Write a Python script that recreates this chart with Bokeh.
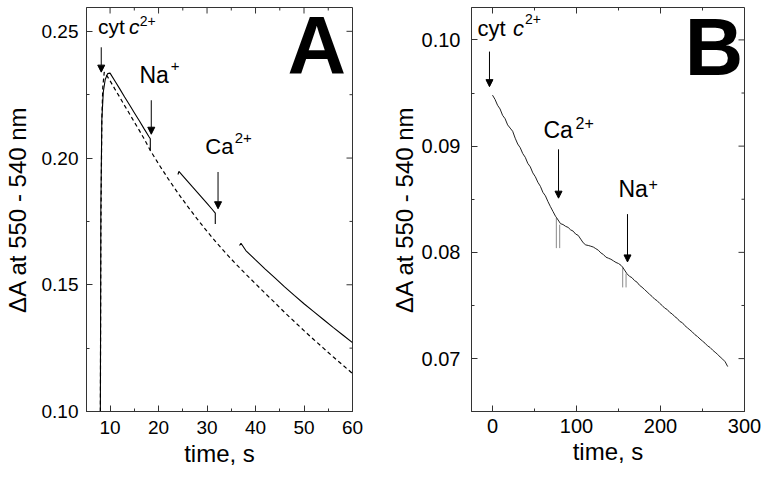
import math
from bokeh.plotting import figure
from bokeh.layouts import row
from bokeh.models import (Range1d, SingleIntervalTicker, NumeralTickFormatter,
                          Label, Arrow, NormalHead, ColumnDataSource)
from bokeh.embed import file_html
from bokeh.resources import INLINE

FONT = "Liberation Sans"

# ---------------- Panel A data ----------------
A_dashed_t = [8.0, 8.1, 8.3, 8.5, 8.8, 9.5, 10, 11, 12, 13, 14, 15, 16, 17, 18.3, 20, 22, 24, 26, 28,
              30, 32, 34, 36, 38, 40, 42, 44, 46, 48, 50, 52, 54, 56, 58, 60]
A_dashed_v = [0.100, 0.170, 0.215, 0.228, 0.2339, 0.2320, 0.2305, 0.2272, 0.2240, 0.2207, 0.2175, 0.2142,
              0.2110, 0.2077, 0.2030, 0.1977, 0.1918, 0.1862, 0.1809, 0.1759, 0.1711, 0.1665, 0.1622,
              0.1581, 0.1542, 0.1504, 0.1466, 0.1429, 0.1391, 0.1355, 0.1319, 0.1284, 0.1250, 0.1216,
              0.1183, 0.1150]

A_solid1_t = [8.0, 8.1, 8.3, 8.6, 9.0, 9.5, 10.0, 11, 12, 13, 14, 15, 16, 17, 18, 18.3, 18.3]
A_solid1_v = [0.100, 0.180, 0.215, 0.226, 0.231, 0.2333, 0.2335, 0.2304, 0.2273, 0.2241, 0.2210, 0.2179,
              0.2148, 0.2116, 0.2085, 0.2076, 0.2030]
A_solid2_t = [24.0, 24.2, 25, 26, 27, 28, 29, 30, 31, 31.7, 31.7]
A_solid2_v = [0.1935, 0.1947, 0.1930, 0.1908, 0.1886, 0.1865, 0.1843, 0.1821, 0.1799, 0.1783, 0.1740]
A_solid3_t = [36.7, 37.0, 38, 40, 42, 44, 46, 48, 50, 52, 54, 56, 58, 60]
A_solid3_v = [0.1655, 0.1664, 0.1635, 0.1598, 0.1562, 0.1527, 0.1492, 0.1458, 0.1425, 0.1394, 0.1363,
              0.1332, 0.1302, 0.1272]

A_arrow_t = [8.18, 18.5, 32.27]
A_arrow_from = [0.2437, 0.2228, 0.1945]
A_arrow_to = [0.2339, 0.2094, 0.1800]

A_xticks_major = [10, 20, 30, 40, 50, 60]
A_xticks_minor = [15, 25, 35, 45, 55]
A_yticks_major = [0.10, 0.15, 0.20, 0.25]
A_yticks_minor = [0.125, 0.175, 0.225]

# ---------------- Panel B data ----------------
B_t = [0, 3, 6, 9, 12, 15, 18, 21, 24, 27, 30, 33, 36, 39, 42, 45, 48, 51, 54, 57, 60, 63, 66, 69, 72, 75, 76,
       81, 84, 87, 90, 93, 96, 99, 102, 105, 108, 111, 114, 117, 120, 123, 126, 129, 132, 135, 138, 141,
       144, 147, 150, 153, 155,
       160, 163, 166, 169, 172, 175, 178, 181, 184, 187, 190, 193, 196, 199, 202, 205, 208, 211, 214, 217,
       220, 223, 226, 229, 232, 235, 238, 241, 244, 247, 250, 253, 256, 259, 262, 265, 268, 271, 274, 277, 280]
B_v = [0.09480, 0.09440, 0.09385, 0.09350, 0.09290, 0.09258, 0.09200, 0.09170, 0.09140, 0.09075, 0.09020,
       0.08985, 0.08930, 0.08895, 0.08838, 0.08805, 0.08748, 0.08712, 0.08660, 0.08622, 0.08565, 0.08532,
       0.08478, 0.08430, 0.08385, 0.08340, 0.08330,
       0.08270, 0.08262, 0.08245, 0.08235, 0.08212, 0.08200, 0.08172, 0.08160, 0.08125, 0.08090, 0.08070,
       0.08065, 0.08058, 0.08050, 0.08035, 0.08020, 0.07995, 0.07980, 0.07955, 0.07945, 0.07935, 0.07920,
       0.07905, 0.07895, 0.07878, 0.07860,
       0.07800, 0.07775, 0.07762, 0.07735, 0.07720, 0.07690, 0.07672, 0.07650, 0.07628, 0.07605, 0.07585,
       0.07560, 0.07545, 0.07520, 0.07500, 0.07475, 0.07462, 0.07435, 0.07420, 0.07395, 0.07378, 0.07350,
       0.07338, 0.07310, 0.07290, 0.07270, 0.07250, 0.07225, 0.07208, 0.07185, 0.07165, 0.07145, 0.07120,
       0.07105, 0.07080, 0.07060, 0.07040, 0.07015, 0.06995, 0.06970, 0.06925]

B_spike_t = [76, 80, 155, 159]
B_spike_top = [0.0833, 0.0826, 0.0786, 0.0780]
B_spike_bottom = [0.0804, 0.0804, 0.0767, 0.0767]

B_arrow_t = [-3.6, 78.6, 160.7]
B_arrow_from = [0.0989, 0.0897, 0.0836]
B_arrow_to = [0.0956, 0.0851, 0.0791]

B_xticks_major = [0, 100, 200, 300]
B_xticks_minor = [50, 150, 250]
B_yticks_major = [0.07, 0.08, 0.09, 0.10]
B_yticks_minor = [0.075, 0.085, 0.095]

AXIS_COLOR = "#333333"


def style(p, xint, yint, tick_size, lab_std_x, lab_std_y, tick_std_x, tick_std_y):
    p.xaxis.ticker = SingleIntervalTicker(interval=xint, num_minor_ticks=2)
    p.yaxis.ticker = SingleIntervalTicker(interval=yint, num_minor_ticks=2)
    p.yaxis.formatter = NumeralTickFormatter(format="0.00")
    for ax in [p.xaxis[0], p.yaxis[0]]:
        ax.major_tick_in = 6
        ax.major_tick_out = 0
        ax.minor_tick_in = 3
        ax.minor_tick_out = 0
        ax.axis_line_color = AXIS_COLOR
        ax.major_tick_line_color = AXIS_COLOR
        ax.minor_tick_line_color = AXIS_COLOR
        ax.major_label_text_font = FONT
        ax.major_label_text_font_size = tick_size
        ax.major_label_text_color = "black"
        ax.axis_label_text_font = FONT
        ax.axis_label_text_font_size = "24px"
        ax.axis_label_text_font_style = "normal"
        ax.axis_label_text_color = "black"
    p.xaxis.major_label_standoff = tick_std_x
    p.yaxis.major_label_standoff = tick_std_y
    p.xaxis.axis_label_standoff = lab_std_x
    p.yaxis.axis_label_standoff = lab_std_y
    p.xgrid.visible = False
    p.ygrid.visible = False
    p.outline_line_color = AXIS_COLOR


def mirror_ticks(p, xmaj, xmin, ymaj, ymin, xtop, yright):
    p.ray(x=xmaj, y=[xtop] * len(xmaj), length=6, length_units="screen", angle=-math.pi / 2,
          line_color=AXIS_COLOR, line_width=1)
    p.ray(x=xmin, y=[xtop] * len(xmin), length=3, length_units="screen", angle=-math.pi / 2,
          line_color=AXIS_COLOR, line_width=1)
    p.ray(x=[yright] * len(ymaj), y=ymaj, length=6, length_units="screen", angle=math.pi,
          line_color=AXIS_COLOR, line_width=1)
    p.ray(x=[yright] * len(ymin), y=ymin, length=3, length_units="screen", angle=math.pi,
          line_color=AXIS_COLOR, line_width=1)


def arrows(p, xs, y0, y1):
    src = ColumnDataSource(dict(x=xs, y0=y0, y1=y1))
    p.add_layout(Arrow(end=NormalHead(size=7, fill_color="black", line_color="black", line_width=1),
                       x_start="x", y_start="y0", x_end="x", y_end="y1", source=src,
                       line_color="black", line_width=1))


def lab(p, x, y, text, size, style="normal", yoff=None):
    if yoff is None:
        yoff = round(0.43 * size)
    p.add_layout(Label(x=x, y=y, text=text, text_font=FONT, text_font_size=f"{size}px",
                       text_font_style=style, text_baseline="alphabetic", text_align="left",
                       y_offset=yoff, text_color="black"))


# ---------------- Figure A ----------------
A_X0, A_X1, A_Y0, A_Y1 = 5.14, 60, 0.10, 0.2594
pA = figure(width=380, height=478, x_range=Range1d(A_X0, A_X1), y_range=Range1d(A_Y0, A_Y1),
            output_backend="svg", toolbar_location=None,
            min_border_left=81, min_border_right=28, min_border_top=5, min_border_bottom=67)
pA.xaxis.axis_label = "time, s"
pA.yaxis.axis_label = "ΔA at 550 - 540 nm"
style(pA, 10, 0.05, "19px", 3, 8, 9, 8)
mirror_ticks(pA, A_xticks_major, A_xticks_minor, A_yticks_major, A_yticks_minor, A_Y1, A_X1)

pA.line(A_dashed_t, A_dashed_v, line_color="black", line_width=1.2, line_dash="4 3")
pA.multi_line([A_solid1_t, A_solid2_t, A_solid3_t], [A_solid1_v, A_solid2_v, A_solid3_v],
              line_color="black", line_width=1.1)
arrows(pA, A_arrow_t, A_arrow_from, A_arrow_to)

lab(pA, 7.51, 0.2484, "cyt", 21)
lab(pA, 13.9, 0.2484, "c", 21, "italic")
lab(pA, 16.1, 0.2516, "2+", 14)
lab(pA, 16.07, 0.2287, "Na", 23)
lab(pA, 22.5, 0.2339, "+", 15)
lab(pA, 29.64, 0.2012, "Ca", 22)
lab(pA, 35.7, 0.2055, "2+", 15)
lab(pA, 46.6, 0.2319, "A", 81, "bold", yoff=32)

# ---------------- Figure B ----------------
B_X0, B_X1, B_Y0, B_Y1 = -25, 300, 0.06502, 0.10305
pB = figure(width=385, height=478, x_range=Range1d(B_X0, B_X1), y_range=Range1d(B_Y0, B_Y1),
            output_backend="svg", toolbar_location=None,
            min_border_left=91, min_border_right=21, min_border_top=7, min_border_bottom=59)
pB.xaxis.axis_label = "time, s"
pB.yaxis.axis_label = "ΔA at 550 - 540 nm"
style(pB, 100, 0.01, "20px", 2, 1, 7, 11)
mirror_ticks(pB, B_xticks_major, B_xticks_minor, B_yticks_major, B_yticks_minor, B_Y1, B_X1)

pB.segment(x0=B_spike_t, y0=B_spike_top, x1=B_spike_t, y1=B_spike_bottom,
           line_color="#8a8a8a", line_width=1)
pB.line(B_t, B_v, line_color="#222222", line_width=1)
arrows(pB, B_arrow_t, B_arrow_from, B_arrow_to)

lab(pB, -17.9, 0.10018, "cyt", 22)
lab(pB, 24.5, 0.10018, "c", 22, "italic")
lab(pB, 38.6, 0.10138, "2+", 14)
lab(pB, 60.7, 0.0906, "Ca", 23)
lab(pB, 98.8, 0.0915, "2+", 16)
lab(pB, 150.0, 0.08498, "Na", 23)
lab(pB, 185.7, 0.0858, "+", 16)
lab(pB, 229.0, 0.0963, "B", 81, "bold", yoff=32)

layout = row(pA, pB)
open("out.html", "w").write(file_html(layout, INLINE))
